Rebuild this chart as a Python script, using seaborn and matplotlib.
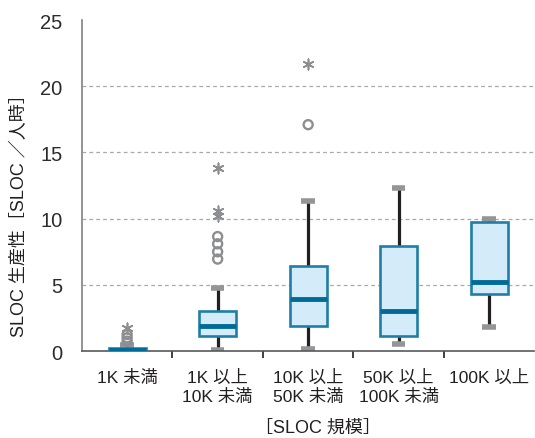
import matplotlib
matplotlib.use("Agg")
import matplotlib.pyplot as plt
import seaborn as sns
import pandas as pd

# categories and box statistics
categories = ["1K 未満", "1K 以上\n10K 未満", "10K 以上\n50K 未満", "50K 以上\n100K 未満", "100K 以上"]
whisker_low = [0.0, 0.1, 0.15, 0.55, 1.85]
q1 = [0.0, 1.15, 1.9, 1.15, 4.3]
median = [0.1, 1.9, 3.9, 3.05, 5.25]
q3 = [0.2, 3.05, 6.4, 7.9, 9.75]
whisker_high = [0.45, 4.75, 11.3, 12.3, 9.95]

# outliers (circles = mild, stars = extreme)
mild_cat = ["1K 未満", "1K 未満", "1K 未満",
            "1K 以上\n10K 未満", "1K 以上\n10K 未満", "1K 以上\n10K 未満", "1K 以上\n10K 未満",
            "10K 以上\n50K 未満"]
mild_val = [0.75, 1.0, 1.25, 6.95, 7.5, 8.1, 8.65, 17.1]
extreme_cat = ["1K 未満", "1K 以上\n10K 未満", "1K 以上\n10K 未満", "1K 以上\n10K 未満", "10K 以上\n50K 未満"]
extreme_val = [1.75, 10.2, 10.55, 13.85, 21.7]

sns.set_theme(style="white")
plt.rcParams['font.family'] = ['Liberation Sans', 'Noto Sans CJK JP']

fig = plt.figure(figsize=(5.35, 4.39), dpi=100)
ax = fig.add_axes([0.153, 0.198, 0.846, 0.754])

gray = "#8c8e91"
mild = pd.DataFrame({"cat": mild_cat, "val": mild_val})
extreme = pd.DataFrame({"cat": extreme_cat, "val": extreme_val})
sns.stripplot(data=mild, x="cat", y="val", order=categories, jitter=False, ax=ax,
              marker="o", color="none", edgecolor=gray, linewidth=1.7, size=6.5, zorder=4)
sns.stripplot(data=extreme, x="cat", y="val", order=categories, jitter=False, ax=ax,
              marker=(6, 2, 0), color=gray, edgecolor=gray, linewidth=1.2, size=7.5, zorder=4)

stats = []
for i in range(len(categories)):
    stats.append({"whislo": whisker_low[i], "q1": q1[i], "med": median[i],
                  "q3": q3[i], "whishi": whisker_high[i], "fliers": []})

ax.bxp(stats, positions=range(len(categories)), widths=0.41, capwidths=0.15,
       patch_artist=True, showfliers=False, manage_ticks=False,
       boxprops=dict(facecolor="#d4ebf9", edgecolor="#1f7ea8", linewidth=1.9, zorder=3),
       medianprops=dict(color="#006b99", linewidth=3.5, solid_capstyle="butt", zorder=3.5),
       whiskerprops=dict(color="#231f20", linewidth=2.3, zorder=2),
       capprops=dict(color="#939598", linewidth=4.0, solid_capstyle="butt", zorder=2.5))

ax.set_ylim(0, 25)
ax.set_xlim(-0.5, 4.5)
ax.set_yticks([0, 5, 10, 15, 20, 25])
ax.set_yticklabels(["0", "5", "10", "15", "20", "25"], fontsize=14.5, color="#2b2b2b")
ax.tick_params(axis="y", length=0, pad=14)
for v in [5, 10, 15, 20]:
    ax.axhline(v, color="#a7a9ac", linestyle=(0, (3, 2.5)), linewidth=0.9, zorder=1)

ax.set_xticks(range(len(categories)))
ax.set_xticklabels(categories, fontsize=12.5, color="#231f20", linespacing=1.2)
ax.set_xticks([0.5, 1.5, 2.5, 3.5], minor=True)
ax.tick_params(axis="x", which="major", length=0, pad=13)
ax.tick_params(axis="x", which="minor", bottom=True, length=5, width=1.2, color="#231f20")

ax.set_xlabel("")
ax.set_ylabel("")
sns.despine(ax=ax, top=True, right=True)
ax.spines["left"].set_color("#808285")
ax.spines["left"].set_linewidth(1.2)
ax.spines["bottom"].set_color("#58595b")
ax.spines["bottom"].set_linewidth(1.2)

fig.text(0.594, 1 - 428 / 439, "［SLOC 規模］", ha="center", va="center", fontsize=13, color="#231f20")
fig.text(20 / 535, 1 - 211 / 439, "SLOC 生産性［SLOC ／人時］", ha="center", va="center",
         rotation=90, fontsize=13, color="#231f20")

fig.savefig("out.png", dpi=100)
